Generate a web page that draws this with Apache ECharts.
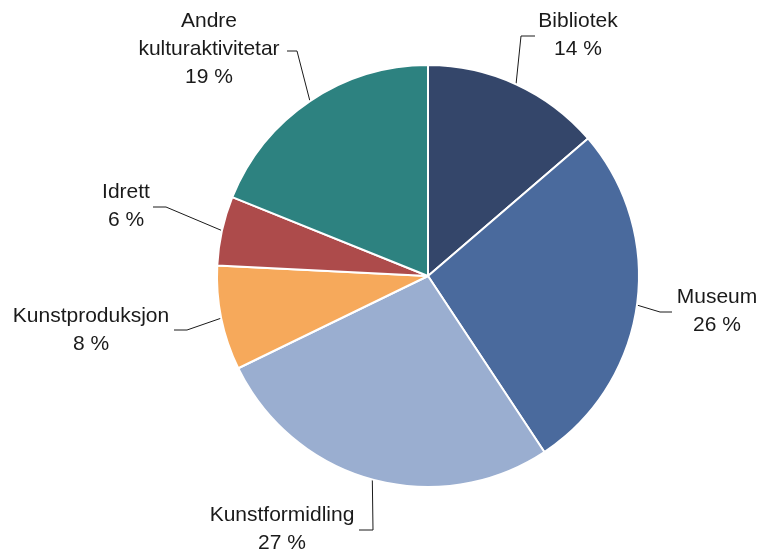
<!DOCTYPE html>
<html>
<head>
<meta charset="utf-8">
<script src="https://cdn.jsdelivr.net/npm/echarts@6/dist/echarts.min.js"></script>
<style>
	html, body { margin: 0; padding: 0; background: #fff; }
	#pieChart { width: 759px; height: 551px; }
</style>
</head>
<body>
<div id="pieChart"></div>
<script>
// kategoriar og verdiar (lese av figuren)
var categories = ['Bibliotek', 'Museum', 'Kunstformidling', 'Kunstproduksjon', 'Idrett', 'Andre\nkulturaktivitetar'];
var sliceValues = [13.7, 27.0, 27.1, 8.0, 5.3, 18.9];
var pctLabels = [14, 26, 27, 8, 6, 19];
var sliceColors = ['#34466a', '#4a6a9d', '#9aaed0', '#f6a95b', '#ad4b4b', '#2d8280'];

// plassering av etikettar (midten av teksten) og knekkpunkt for linjene
var labelPos = [[578, 35], [717, 311], [282, 529], [91, 330], [126, 206], [209, 49]];
var linePts = [
	[[521, 36], [535, 36]],
	[[660, 312], [672, 312]],
	[[373, 530], [359, 530]],
	[[187, 330], [174, 330]],
	[[166, 207], [153, 207]],
	[[297, 51], [287, 51]]
];

function initPie() {
	var myChart = echarts.init(document.getElementById('pieChart'));
	var data = [];
	for(var i = 0; i < categories.length; i++) {
		data.push({
			name: categories[i],
			value: sliceValues[i],
			itemStyle: { color: sliceColors[i] }
		});
	}
	var option = {
		animation: false,
		series: [{
			type: 'pie',
			center: [428, 276],
			radius: 211,
			startAngle: 90,
			clockwise: true,
			itemStyle: {
				borderColor: '#fff',
				borderWidth: 2
			},
			label: {
				show: true,
				position: 'outside',
				overflow: 'none',
				color: '#1a1a1a',
				fontFamily: 'Liberation Sans, Arial, sans-serif',
				fontSize: 21,
				lineHeight: 28,
				align: 'center',
				formatter: function(params) {
					return params.name + '\n' + pctLabels[params.dataIndex] + ' %';
				}
			},
			labelLine: {
				show: true,
				length: 15,
				length2: 15,
				smooth: false,
				lineStyle: {
					color: '#1a1a1a',
					width: 1
				}
			},
			labelLayout: function(params) {
				var i = params.dataIndex;
				var start = params.labelLinePoints ? params.labelLinePoints[0] : linePts[i][0];
				return {
					x: labelPos[i][0],
					y: labelPos[i][1],
					align: 'center',
					verticalAlign: 'middle',
					width: 400,
					labelLinePoints: [start, linePts[i][0], linePts[i][1]]
				};
			},
			data: data
		}]
	};
	myChart.setOption(option);
}
initPie();
</script>
</body>
</html>
